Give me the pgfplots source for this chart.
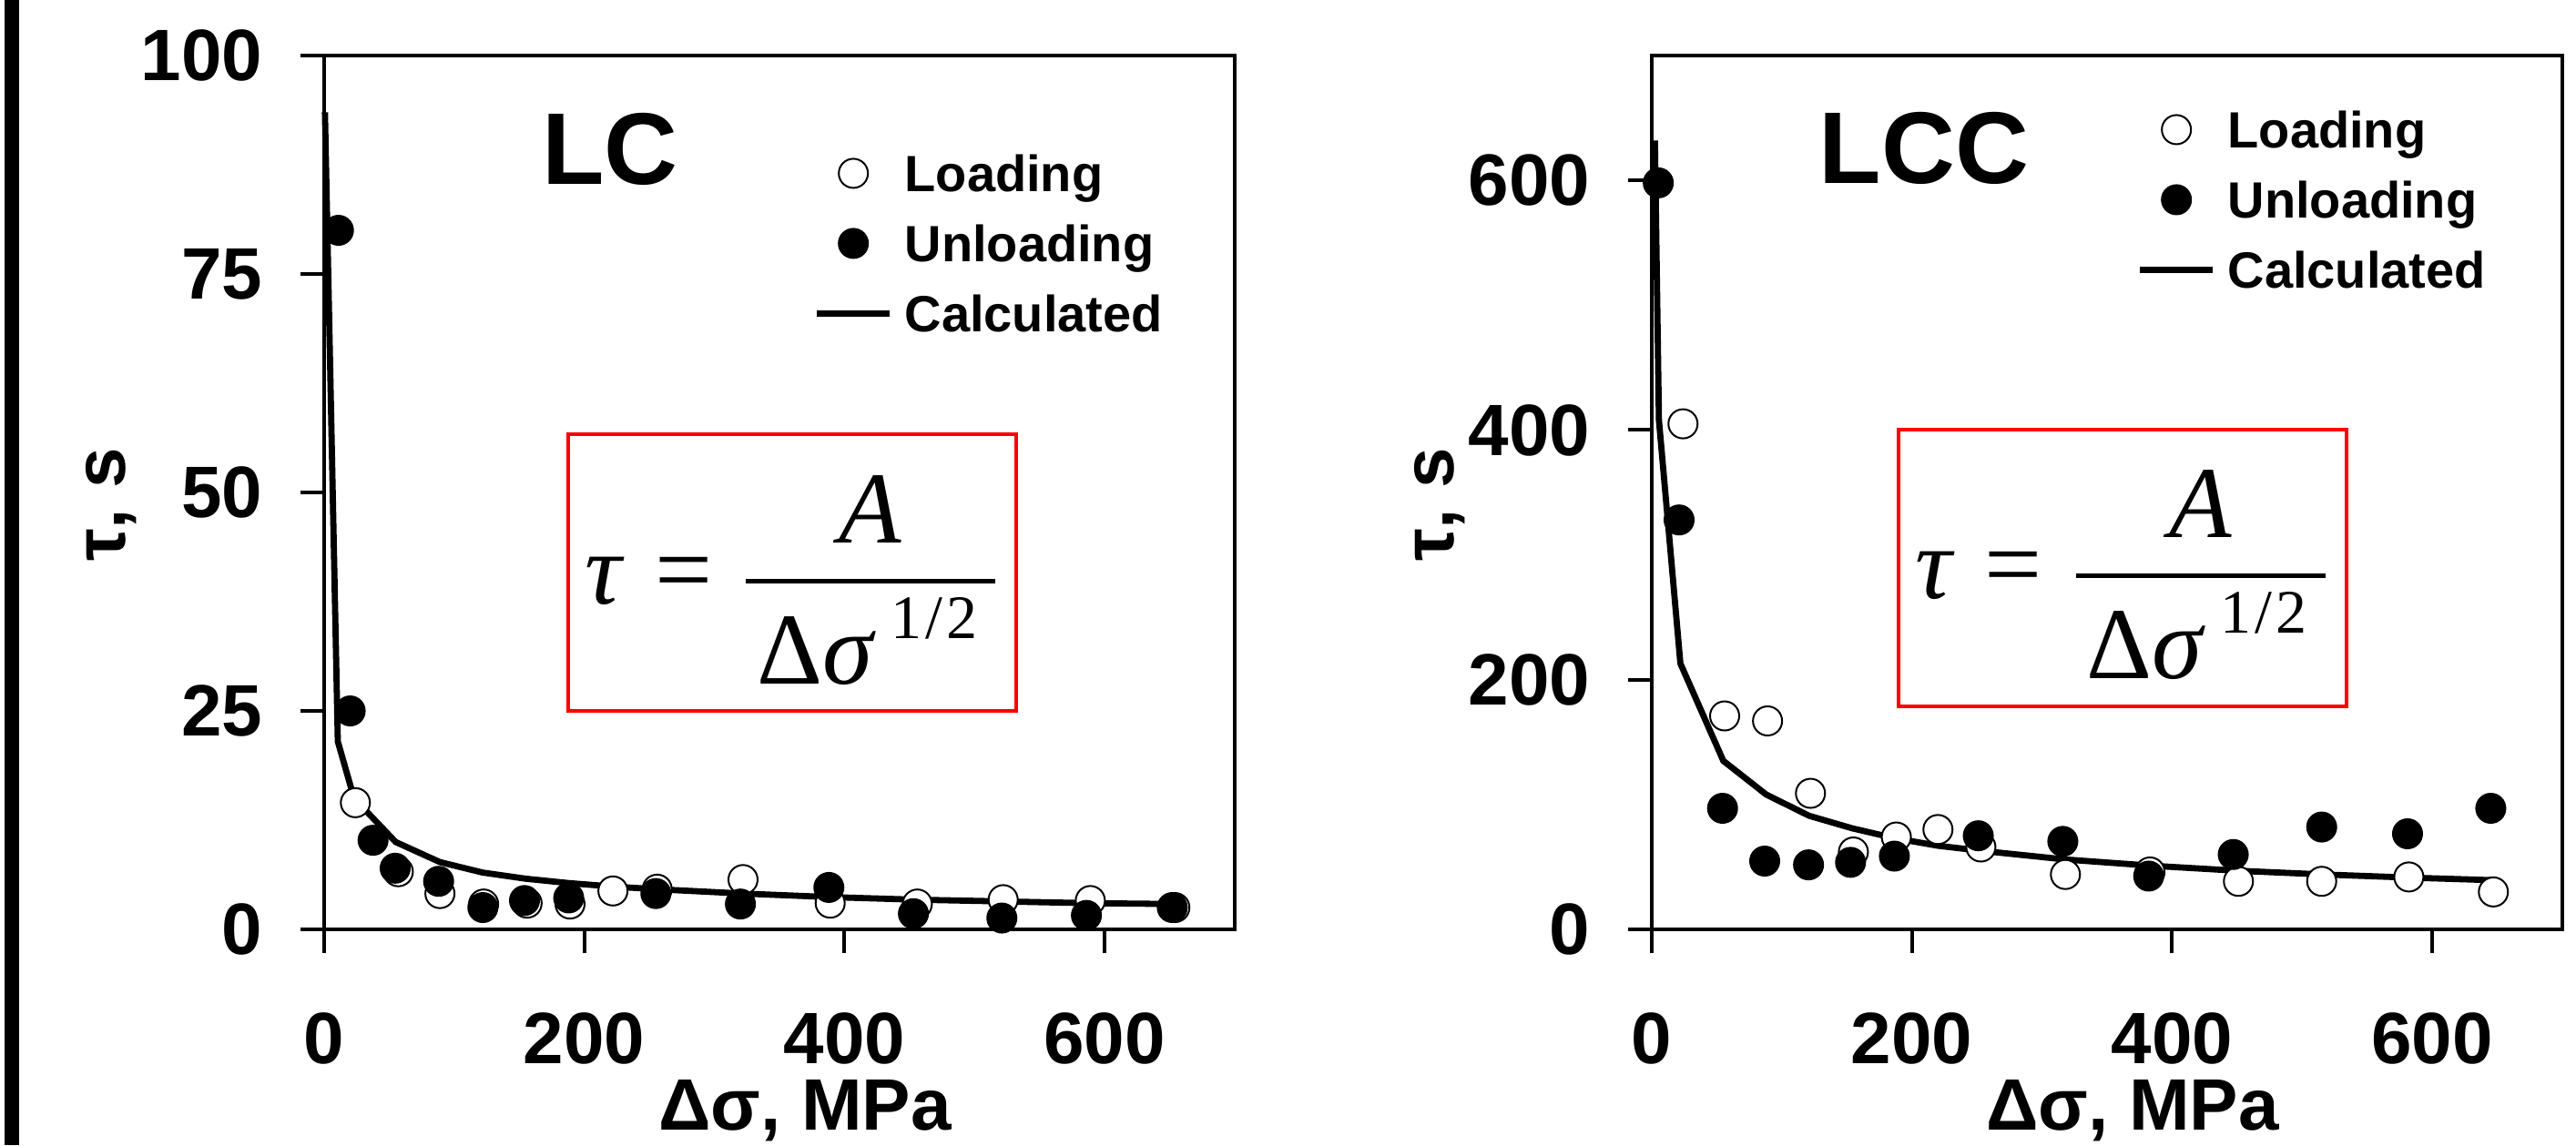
\documentclass[border=0pt]{standalone}
\usepackage{fontspec}
\setmainfont{Liberation Sans}
\newfontfamily\timesf{Liberation Serif}
\usepackage{pgfplots}
\usepackage{pgfplotstable}
\pgfplotsset{compat=1.18}

% ---------------- LC panel data ----------------
\pgfplotstableread{
x y
0.6 93.5
10.5 21.5
23 15
55 10
89 7.7
122 6.5
155 5.8
188 5.3
222 4.9
255 4.6
322 4.1
388 3.7
455 3.4
522 3.2
588 3.0
655 2.9
}\lccalc
\pgfplotstableread{
x y
24 14.5
57 6.6
89 4.1
122.6 2.9
156 3.0
189 2.9
222 4.4
256 4.6
322 5.7
389 3.0
456 2.9
522 3.4
589 3.3
654 2.5
}\lcload
\pgfplotstableread{
x y
11 80
20 25
37.6 10.2
54.6 7.0
88 5.5
122 2.5
154 3.3
188 3.6
255 4.1
320 2.9
388 4.8
453 1.8
521 1.3
586 1.6
652 2.5
}\lcunload

% ---------------- LCC panel data ----------------
\pgfplotstableread{
x y
2.4 632
5.5 408
22 213
55 135
88 108
121 91
154 81
187 73
220 67
253 63
318 56
384 51
450 47
516 44
582 41.5
647 39.4
}\lcccalc
\pgfplotstableread{
x y
24 405
56 171
89 167
122 109
155 62
188 74
220 80
253 66
318 44
383 46
451 38.5
515 38.5
582 42
647 30
}\lccload
\pgfplotstableread{
x y
5 598
21 328
54.4 97
86.8 54.7
120.5 51.7
152.8 53.7
186.5 58.7
251 75
316 70.5
382 42.7
447 60
515 82
581 76.6
645 97
}\lccunload

\newcommand{\formula}{$\displaystyle\mbox{\itshape τ}\hspace{9pt}\mbox{=}\hspace{8pt}{\mbox{\itshape A}\above 1.25pt\mbox{\hspace{3pt}Δ\itshape σ\upshape\hspace{5pt}\raisebox{12.5pt}{\fontsize{17}{17}\selectfont 1\hspace{1pt}/\hspace{1pt}2}\hspace{5pt}}}$}

\pgfplotsset{
  panel/.style={
    scale only axis, width=250pt, height=240pt, anchor=south west,
    xmin=0, xmax=700, xtick={0,200,400,600},
    clip=false,
    axis line style={line width=1pt, black},
    every tick/.style={black, line width=1pt},
    major tick length=6.5pt, tick align=outside, tick pos=left,
    tick label style={font=\fontsize{20}{24}\selectfont\bfseries},
    /pgf/number format/assume math mode=true,
    xticklabel style={anchor=base, inner sep=0pt, yshift=-30.25pt},
    yticklabel style={anchor=east, inner sep=0pt, xshift=-10.25pt},
    xlabel={Δσ, MPa}, ylabel={τ, s},
    label style={font=\fontsize{20}{24}\selectfont\bfseries},
    xlabel style={at={([yshift=-55pt]rel axis cs:0.528,0)}, anchor=base, inner sep=0pt},
    ylabel style={at={([xshift=-54.5pt]rel axis cs:0,0.486)}, anchor=base, inner sep=0pt},
    legend style={draw=none, fill=none, anchor=west, inner sep=0pt,
      font=\fontsize{14}{16}\selectfont\bfseries, cells={anchor=west},
      row sep=5.25pt,
      nodes={inner ysep=0pt, inner xsep=3.25pt, text height=12pt, text depth=2pt}},
    legend image code/.code={\draw[mark repeat=2,mark phase=2,#1] plot coordinates {(0pt,0pt) (10pt,0pt) (20pt,0pt)};},
  },
  openmk/.style={only marks, mark=*, mark size=4pt, mark options={fill=white, draw=black, line width=0.5pt}},
  fillmk/.style={only marks, mark=*, mark size=4pt, mark options={fill=black, draw=black, line width=0.5pt}},
  calcln/.style={black, line width=1.7pt, mark=none},
}

\begin{document}
\begin{tikzpicture}
\useasboundingbox (0,0) rectangle (707.25pt,-314.5pt);
\fill[black] (1.25pt,0pt) rectangle (5.25pt,-314.5pt);

% ---------- LC ----------
\begin{axis}[panel, at={(89pt,-255.25pt)},
  ymin=0, ymax=100, ytick={0,25,50,75,100},
  legend style={at={(0.537,0.785)}}]
\addlegendimage{openmk}
\addlegendimage{fillmk}
\addlegendimage{calcln}
\addplot[calcln, forget plot] table {\lccalc};
\addplot[openmk, forget plot] table {\lcload};
\addplot[fillmk, forget plot] table {\lcunload};
\legend{Loading, Unloading, Calculated}
\node[anchor=base, font=\fontsize{28}{32}\selectfont\bfseries] at (rel axis cs:0.314,0.853) {LC};
\node[draw=red, line width=1pt, minimum width=123pt, minimum height=76pt, inner sep=0pt] at (rel axis cs:0.5145,0.408) {};
\node[inner sep=0pt, font=\timesf\fontsize{28}{32}\selectfont] at ([yshift=-2pt]rel axis cs:0.5145,0.408) {\formula};
\end{axis}

% ---------- LCC ----------
\begin{axis}[panel, at={(453.5pt,-255.25pt)},
  ymin=0, ymax=700, ytick={0,200,400,600},
  legend style={at={(0.532,0.835)}}]
\addlegendimage{openmk}
\addlegendimage{fillmk}
\addlegendimage{calcln}
\addplot[calcln, forget plot] table {\lcccalc};
\addplot[openmk, forget plot] table {\lccload};
\addplot[fillmk, forget plot] table {\lccunload};
\legend{Loading, Unloading, Calculated}
\node[anchor=base, font=\fontsize{28}{32}\selectfont\bfseries] at (rel axis cs:0.299,0.854) {LCC};
\node[draw=red, line width=1pt, minimum width=123pt, minimum height=76pt, inner sep=0pt] at (rel axis cs:0.517,0.414) {};
\node[inner sep=0pt, font=\timesf\fontsize{28}{32}\selectfont] at ([yshift=-2pt]rel axis cs:0.517,0.414) {\formula};
\end{axis}
\end{tikzpicture}
\end{document}
